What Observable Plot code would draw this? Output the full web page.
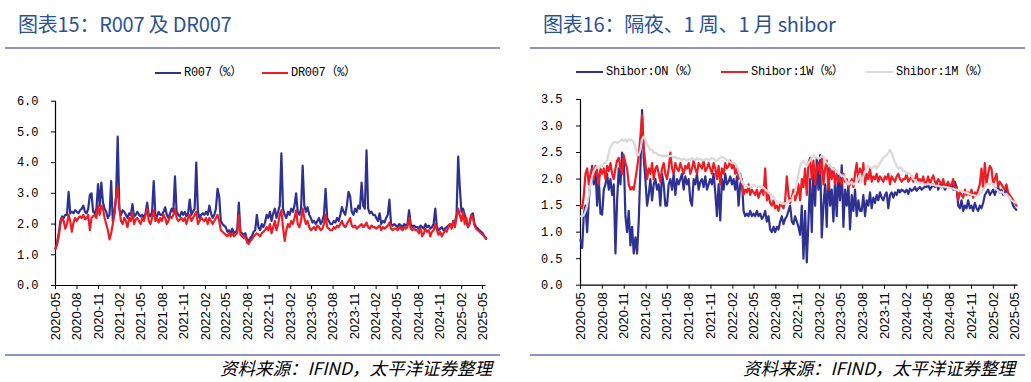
<!DOCTYPE html>
<html><head><meta charset="utf-8">
<script src="https://cdn.jsdelivr.net/npm/d3@7"></script>
<script src="https://cdn.jsdelivr.net/npm/@observablehq/plot@0.6"></script>
<style>
body{margin:0;background:#fff;}
#root{position:relative;width:1031px;height:382px;overflow:hidden;background:#fff;}
.abs{position:absolute;}
.title{position:absolute;top:12px;font-family:"Noto Sans CJK SC",sans-serif;font-size:20px;line-height:24px;color:#2a5293;white-space:nowrap;letter-spacing:-0.2px;}
.rule{position:absolute;height:2px;background:#8f93c3;}
.sw{position:absolute;height:2px;}
.lt{position:absolute;font-family:"Liberation Mono","Noto Sans CJK SC",monospace;font-size:12px;line-height:14px;color:#000;white-space:nowrap;letter-spacing:-0.3px;}
.src{position:absolute;top:357px;font-family:"Noto Sans CJK SC",sans-serif;font-style:italic;font-size:17.5px;line-height:22px;color:#000;white-space:nowrap;}
</style></head>
<body>
<div id="root">
  <div class="title" style="left:18px">图表15：R007 及 DR007</div>
  <div class="title" style="left:543px">图表16：隔夜、1 周、1 月 shibor</div>
  <div class="rule" style="left:5px;top:47px;width:495px"></div>
  <div class="rule" style="left:530px;top:47px;width:495px"></div>
  <div class="rule" style="left:5px;top:354px;width:495px"></div>
  <div class="rule" style="left:530px;top:354px;width:495px"></div>
  <div id="legL"></div>
  <div id="legR"></div>
  <div id="chartL" class="abs" style="left:0;top:90px"></div>
  <div id="chartR" class="abs" style="left:515px;top:90px"></div>
  <div class="src" style="right:539px">资料来源：IFIND，太平洋证券整理</div>
  <div class="src" style="right:16px">资料来源：IFIND，太平洋证券整理</div>
</div>
<script>
// ---------- data (weekly readings from 2020-05-01) ----------
const seriesStart = "2020-05-01";
const stepDays = 7;
const xTickLabels = ["2020-05","2020-08","2020-11","2021-02","2021-05","2021-08","2021-11","2022-02","2022-05","2022-08","2022-11","2023-02","2023-05","2023-08","2023-11","2024-02","2024-05","2024-08","2024-11","2025-02","2025-05"];
const yTicksLeft = [0,1,2,3,4,5,6];
const yTicksRight = [0,0.5,1,1.5,2,2.5,3,3.5];
const seriesLeft = ["R007（%）","DR007（%）"];
const seriesRight = ["Shibor:ON（%）","Shibor:1W（%）","Shibor:1M（%）"];

const r007 = [
1.2,1.4,1.7,2.1,2.25,2.2,2.3,2.3,3.05,2.35,2.4,2.35,2.45,
2.4,2.35,2.45,2.5,2.6,2.4,2.35,2.5,2.95,3.0,2.4,2.35,2.5,
3.3,2.6,3.35,2.7,2.5,2.4,2.2,2.3,3.4,2.1,2.4,2.9,4.85,
2.5,2.3,2.45,2.4,2.3,2.2,2.35,2.3,2.65,2.25,2.3,2.4,2.3,
2.25,2.3,2.2,2.35,2.7,2.3,2.25,2.4,3.4,2.3,2.25,2.4,2.3,
2.3,2.4,2.55,2.3,2.2,2.35,2.5,2.4,3.55,2.4,2.3,2.25,2.4,
2.3,2.4,2.25,2.35,2.8,2.3,2.4,2.5,4.0,2.4,2.2,2.3,2.35,
2.3,2.4,2.3,2.6,2.35,2.2,2.3,2.5,3.15,2.9,2.1,2.0,1.95,
1.9,1.75,1.8,1.7,1.85,1.7,1.75,1.8,2.7,1.75,1.7,1.65,1.7,
1.5,1.45,1.55,1.6,1.75,1.8,2.3,1.9,1.8,2.0,1.9,2.05,2.3,
2.2,2.4,2.1,2.35,2.5,2.2,2.4,2.6,4.3,2.5,2.3,2.2,2.4,
2.3,2.5,2.4,2.6,3.0,2.4,2.3,2.5,3.9,2.6,2.4,2.55,2.3,
2.2,2.05,2.1,2.0,2.1,2.2,2.0,2.1,2.3,3.15,2.2,2.1,2.0,
2.0,2.1,2.05,2.2,2.1,2.3,2.55,2.4,2.3,2.6,3.05,2.9,2.4,
2.3,2.5,2.4,2.6,2.5,3.35,2.6,2.5,4.4,2.5,2.35,2.4,2.3,
2.3,2.2,2.1,2.35,2.0,2.1,2.05,2.2,2.3,2.8,2.0,1.95,2.0,
1.95,1.9,2.0,1.95,1.9,2.0,1.95,2.0,2.45,2.0,1.9,1.95,1.9,
1.9,1.85,1.95,1.9,1.85,2.0,1.9,1.95,1.85,1.9,2.0,2.5,1.9,
1.8,1.85,1.9,1.8,1.85,1.9,1.95,2.0,1.9,2.1,2.05,2.3,4.2,
3.2,2.4,2.5,2.3,2.1,1.9,2.0,2.3,2.35,2.0,1.9,1.85,1.8,
1.75,1.7,1.6,1.52];

const dr007 = [
1.2,1.35,1.6,2.0,2.2,2.1,1.85,2.0,2.3,2.1,1.75,2.05,2.2,
2.1,2.2,2.25,2.2,2.3,2.15,2.2,2.3,1.8,2.2,2.25,2.3,2.2,
2.6,2.3,2.6,2.5,2.2,2.0,1.8,1.5,1.7,2.0,2.3,2.85,3.2,
2.5,2.1,2.0,2.2,2.1,1.9,2.2,2.1,2.4,2.0,2.15,2.2,2.1,
2.0,2.2,2.1,2.3,2.5,2.1,2.0,2.2,2.45,2.1,2.2,2.05,2.2,
2.1,2.3,2.2,2.0,2.1,2.25,2.2,2.3,2.5,2.2,2.1,2.15,2.2,
2.1,2.2,2.0,2.2,2.3,2.1,2.2,2.3,2.4,2.0,2.1,2.2,2.15,
2.1,2.2,2.0,2.2,2.1,2.0,2.1,2.2,2.3,2.1,1.8,1.75,1.7,
1.65,1.6,1.7,1.6,1.7,1.6,1.65,1.7,2.3,1.65,1.6,1.55,1.6,
1.4,1.35,1.45,1.5,1.6,1.65,1.7,1.65,1.6,1.7,1.75,1.8,1.9,
1.8,2.0,1.7,1.9,2.1,1.8,2.0,2.3,2.45,1.9,1.45,1.8,2.0,
1.9,2.1,2.0,2.2,2.45,2.0,1.9,2.1,2.5,2.2,2.0,2.1,1.9,
1.8,1.85,1.9,1.8,1.95,1.9,1.8,1.85,2.0,2.3,1.9,1.85,1.8,
1.8,1.9,1.85,1.95,1.9,2.0,2.1,1.95,1.9,2.0,2.1,2.2,1.95,
1.9,1.95,1.85,1.9,1.95,2.0,1.9,1.95,2.05,1.9,1.85,1.95,1.9,
1.9,1.85,1.9,1.95,1.8,1.9,1.85,1.9,1.95,2.05,1.85,1.8,1.85,
1.85,1.8,1.9,1.85,1.8,1.9,1.85,1.9,2.2,1.85,1.8,1.85,1.8,
1.8,1.7,1.85,1.6,1.7,1.85,1.75,1.8,1.6,1.75,1.8,2.0,1.8,
1.65,1.75,1.6,1.7,1.8,1.75,1.9,2.0,1.85,2.1,1.9,2.2,2.5,
2.3,2.1,2.4,2.0,2.2,1.9,2.05,2.3,2.2,1.95,1.85,1.8,1.75,
1.7,1.65,1.6,1.55];

const shiborON = [
0.85,0.7,1.35,1.5,1.0,1.6,2.0,2.25,1.9,2.2,1.5,2.0,1.35,
1.33,1.8,1.9,2.1,1.8,2.0,1.7,1.9,0.6,1.6,2.2,1.9,2.5,
2.4,1.3,1.0,1.4,0.75,1.1,0.6,0.9,0.6,1.2,2.2,3.3,2.4,
2.0,1.5,1.7,2.0,1.6,1.9,2.0,1.8,1.9,1.5,2.1,1.9,1.5,
1.5,1.9,2.0,1.8,2.1,1.7,2.0,1.9,2.0,2.1,1.8,2.05,1.9,
2.0,1.6,1.5,2.0,1.9,2.1,1.8,1.95,2.0,1.85,2.05,1.8,1.9,
2.0,1.9,2.1,1.75,1.3,1.9,1.22,2.0,1.8,2.1,1.9,1.95,2.05,
1.9,2.0,1.8,2.05,1.5,1.9,2.0,1.4,1.3,1.35,1.3,1.4,1.3,
1.35,1.3,1.4,1.3,1.35,1.25,1.3,1.4,1.2,1.3,1.05,1.0,1.1,
1.0,1.1,1.05,1.2,1.3,1.15,1.25,1.3,1.4,1.5,1.2,1.15,1.3,
1.2,1.1,0.95,1.5,0.5,1.4,0.43,1.2,2.0,1.0,2.2,1.5,2.4,
1.8,2.45,0.9,1.5,1.9,1.1,2.2,1.5,1.8,1.2,2.0,1.3,2.1,
1.6,2.26,1.1,1.8,1.5,1.9,1.05,1.7,1.4,1.8,1.3,1.6,1.4,
1.4,1.7,1.3,1.6,1.5,1.75,1.45,1.65,1.55,1.7,1.6,1.75,1.65,
1.6,1.7,1.75,1.45,1.7,1.75,1.65,1.75,1.7,1.8,1.75,1.8,1.78,
1.75,1.8,1.72,1.82,1.78,1.8,1.85,1.78,1.82,1.85,1.8,1.83,1.86,
1.85,1.9,1.8,1.85,1.9,1.85,1.95,1.8,1.9,1.85,1.9,1.8,1.85,
1.9,1.85,1.9,1.8,1.95,1.85,1.5,1.45,1.6,1.4,1.5,1.45,1.6,
1.45,1.5,1.4,1.55,1.45,1.4,1.5,1.45,1.55,1.7,1.75,1.8,1.7,
1.75,1.8,1.7,1.8,1.85,1.75,1.8,1.7,1.75,1.8,1.7,1.65,1.6,
1.5,1.45,1.42];

const shibor1W = [
1.5,1.45,1.7,2.1,2.2,1.9,2.1,2.2,2.0,2.25,2.15,1.9,2.2,
2.1,2.2,2.0,2.25,2.15,2.3,2.1,2.0,2.2,2.35,2.4,2.2,2.1,
2.45,2.3,2.2,1.9,1.8,1.85,1.8,2.0,2.2,2.45,2.8,3.2,2.6,
2.3,2.0,2.2,2.1,2.3,2.0,2.2,2.25,2.1,1.95,2.2,2.3,2.1,
2.0,2.2,2.5,2.2,2.1,2.3,2.2,2.15,2.3,2.2,2.1,2.25,2.2,
2.3,2.1,2.2,2.35,2.2,2.1,2.3,2.25,2.2,2.35,2.15,2.2,2.3,
2.2,2.1,2.3,2.2,2.0,2.25,1.9,2.2,2.1,2.3,2.2,2.25,2.35,
2.2,2.3,2.1,2.2,2.0,2.1,1.9,1.7,1.8,1.75,1.9,1.7,1.8,
1.75,1.7,1.8,1.65,1.75,1.8,1.7,2.2,1.6,1.7,1.55,1.5,1.6,
1.45,1.5,1.4,1.55,1.5,1.45,1.6,2.05,1.7,1.55,1.65,1.8,1.6,
1.7,1.9,1.6,2.0,1.85,2.2,1.7,2.3,2.4,2.0,2.35,1.9,2.2,
2.3,2.1,2.4,1.9,2.2,2.35,1.8,2.25,2.0,2.2,1.9,2.1,1.95,
2.0,1.9,2.1,1.95,2.0,1.85,1.9,2.0,1.85,2.1,2.3,1.95,2.2,
2.0,2.3,1.9,2.1,2.0,2.2,1.95,2.05,2.0,2.1,1.95,2.05,2.0,
1.95,2.05,2.0,2.1,1.9,2.05,2.0,1.95,2.05,2.1,2.0,1.95,2.0,
2.0,2.1,1.95,2.0,2.05,1.95,2.0,2.1,1.95,2.0,1.95,2.05,1.9,
1.95,2.05,1.9,2.0,2.07,1.95,1.9,2.0,1.95,1.9,2.0,1.85,1.9,
1.95,1.85,1.9,2.0,1.8,1.85,1.6,1.75,1.7,1.65,1.8,1.7,1.75,
1.7,1.8,1.65,1.75,1.7,1.8,1.9,2.2,1.85,2.3,1.9,2.1,2.25,
2.2,1.9,2.0,2.1,1.85,1.95,1.9,1.85,1.8,1.9,1.75,1.7,1.65,
1.6,1.55,1.5];

const shibor1M = [
1.3,1.3,1.32,1.4,1.5,1.7,1.9,2.05,2.15,2.2,2.25,2.2,2.25,
2.25,2.3,2.3,2.35,2.5,2.6,2.65,2.7,2.7,2.68,2.7,2.72,2.75,
2.72,2.75,2.7,2.75,2.73,2.74,2.7,2.6,2.45,2.45,2.55,2.75,2.8,
2.75,2.65,2.6,2.55,2.55,2.5,2.5,2.48,2.45,2.45,2.42,2.45,2.43,
2.45,2.42,2.44,2.43,2.4,2.42,2.38,2.4,2.38,2.36,2.38,2.37,2.35,
2.38,2.36,2.4,2.38,2.35,2.4,2.37,2.38,2.36,2.35,2.37,2.38,2.36,
2.37,2.4,2.38,2.36,2.35,2.38,2.4,2.42,2.4,2.38,2.36,2.35,2.32,
2.3,2.3,2.28,2.25,2.15,2.05,1.95,1.9,1.88,1.87,1.85,1.86,1.85,
1.9,1.88,1.85,1.86,1.85,1.87,1.84,1.8,1.78,1.75,1.72,1.7,1.65,
1.6,1.58,1.55,1.55,1.54,1.53,1.55,1.54,1.56,1.6,1.6,1.7,1.75,
1.9,2.1,2.25,2.3,2.35,2.3,2.25,2.3,2.35,2.4,2.45,2.42,2.4,
2.38,2.4,2.44,2.42,2.35,2.3,2.28,2.25,2.2,2.18,2.2,2.15,2.1,
2.1,2.05,2.07,2.0,1.95,1.9,1.92,1.95,1.9,1.92,1.95,2.0,2.1,
1.95,2.05,2.15,2.2,2.25,2.22,2.2,2.22,2.25,2.2,2.25,2.3,2.35,
2.4,2.42,2.45,2.5,2.55,2.5,2.4,2.32,2.25,2.2,2.22,2.2,2.15,
2.15,2.1,2.12,2.1,2.05,2.0,1.98,1.95,1.93,1.92,1.93,1.9,1.9,
1.9,1.91,1.9,1.89,1.9,1.88,1.87,1.88,1.86,1.85,1.86,1.85,1.85,
1.84,1.83,1.82,1.82,1.8,1.8,1.78,1.79,1.77,1.76,1.75,1.74,1.73,
1.72,1.7,1.7,1.69,1.68,1.7,1.72,1.75,1.8,1.85,1.9,1.92,1.9,
1.92,1.91,1.85,1.8,1.78,1.75,1.76,1.74,1.7,1.72,1.68,1.65,1.6,
1.58,1.56,1.55];

// ---------- styles ----------
const colorsLeft = ["#2e3192","#ee1c25"];
const colorsRight = ["#2e3192","#ee1c25","#d9d9d9"];

// ---------- build ----------
const parseMonth = d3.utcParse("%Y-%m");
const start = d3.utcParse("%Y-%m-%d")(seriesStart);
const xTicks = xTickLabels.map(parseMonth);
const domainEnd = d3.utcDay.offset(xTicks[xTicks.length - 1], 15);
const rows = (vals, name) => vals.map((v, i) => ({date: d3.utcDay.offset(start, stepDays * i), value: v, series: name}));

function axes(yTicks, yMax, padY) {
  return [
    Plot.axisY(yTicks, {anchor: "left", tickSize: 4, tickPadding: padY, tickFormat: d3.format(".1f"),
      fontFamily: "Liberation Mono, monospace", fontSize: 12, label: null}),
    Plot.axisX(xTicks, {anchor: "bottom", tickSize: 4, tickPadding: 3, tickRotate: -90,
      tickFormat: d3.utcFormat("%Y-%m"), fontFamily: "Liberation Sans, Arial, sans-serif", fontSize: 13, label: null}),
    Plot.ruleX([start], {y1: 0, y2: yMax, stroke: "#000", strokeWidth: 1.2}),
    Plot.ruleY([0], {stroke: "#000", strokeWidth: 1.2})
  ];
}

const leftPlot = Plot.plot({
  width: 515, height: 265,
  marginLeft: 55, marginRight: 29.5, marginTop: 10.7, marginBottom: 70,
  style: {background: "transparent", color: "#000", fontFamily: "Liberation Sans, sans-serif", fontSize: "12px"},
  x: {type: "utc", domain: [start, domainEnd]},
  y: {domain: [0, 6]},
  marks: [
    ...axes(yTicksLeft, 6, 13),
    Plot.line(rows(r007, seriesLeft[0]), {x: "date", y: "value", stroke: colorsLeft[0], strokeWidth: 2.2}),
    Plot.line(rows(dr007, seriesLeft[1]), {x: "date", y: "value", stroke: colorsLeft[1], strokeWidth: 2.2})
  ]
});
document.getElementById("chartL").appendChild(leftPlot);

const rightPlot = Plot.plot({
  width: 516, height: 265,
  marginLeft: 65, marginRight: 13.4, marginTop: 9, marginBottom: 70.3,
  style: {background: "transparent", color: "#000", fontFamily: "Liberation Sans, sans-serif", fontSize: "12px"},
  x: {type: "utc", domain: [start, domainEnd]},
  y: {domain: [0, 3.5]},
  marks: [
    ...axes(yTicksRight, 3.5, 14),
    Plot.line(rows(shiborON, seriesRight[0]), {x: "date", y: "value", stroke: colorsRight[0], strokeWidth: 2.2}),
    Plot.line(rows(shibor1W, seriesRight[1]), {x: "date", y: "value", stroke: colorsRight[1], strokeWidth: 2.2}),
    Plot.line(rows(shibor1M, seriesRight[2]), {x: "date", y: "value", stroke: colorsRight[2], strokeWidth: 2.2})
  ]
});
document.getElementById("chartR").appendChild(rightPlot);

// ---------- legends (HTML, above the SVGs) ----------
function legend(id, names, colors, swatchX, swatchW, textX, y) {
  const el = document.getElementById(id);
  names.forEach((n, i) => {
    const sw = document.createElement("div");
    sw.className = "sw";
    sw.style.cssText = `left:${swatchX[i]}px;top:${y - 1}px;width:${swatchW}px;background:${colors[i]}`;
    el.appendChild(sw);
    const t = document.createElement("div");
    t.className = "lt";
    t.style.cssText = `left:${textX[i]}px;top:${y - 7}px`;
    t.textContent = n;
    el.appendChild(t);
  });
}
legend("legL", seriesLeft, colorsLeft, [155, 262], 26, [184, 291], 73);
legend("legR", seriesRight, colorsRight, [576, 721, 866], 27, [606, 751, 896], 72);
</script>
</body></html>
